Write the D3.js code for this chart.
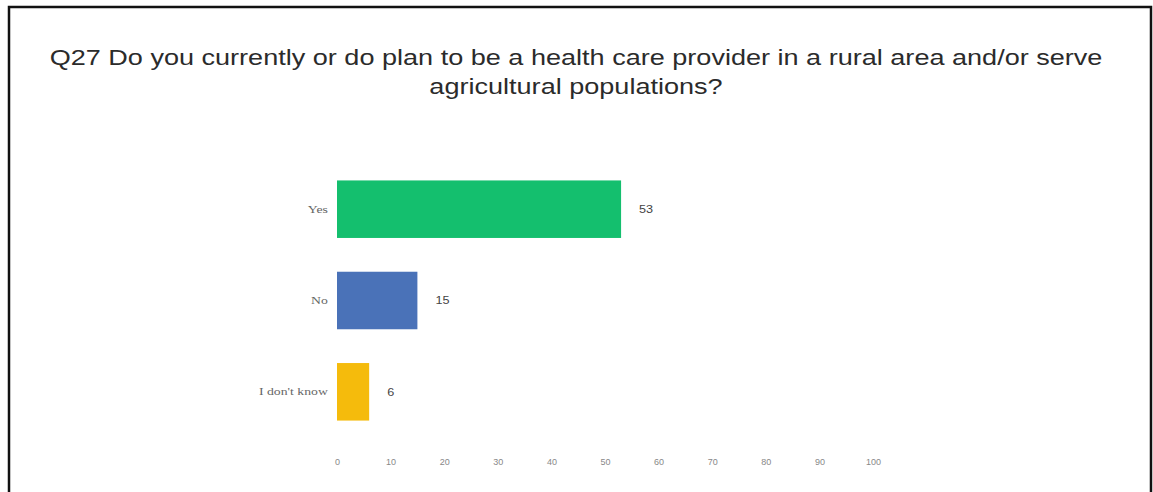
<!DOCTYPE html>
<html>
<head>
<meta charset="utf-8">
<script src="https://cdn.jsdelivr.net/npm/d3@7"></script>
<style>
  body { margin: 0; background: #fff; }
</style>
</head>
<body>
<script>
const categories = ["Yes", "No", "I don't know"];
const values = [53, 15, 6];
const colors = ["#14bf6e", "#4a72b8", "#f5bb0c"];
const ticks = [0, 10, 20, 30, 40, 50, 60, 70, 80, 90, 100];
const titleLines = [
  "Q27 Do you currently or do plan to be a health care provider in a rural area and/or serve",
  "agricultural populations?"
];

const width = 1153;
const height = 492;
// the source picture is stretched sideways, so text gets a horizontal stretch too
const stretch = 1.31;

const svg = d3.select("body").append("svg")
  .attr("width", width)
  .attr("height", height)
  .style("font-family", "'Liberation Sans', Arial, sans-serif");

// frame (open at the bottom, cropped)
svg.append("path")
  .attr("d", `M9,${height + 5}V7H1151V${height + 5}`)
  .attr("fill", "none")
  .attr("stroke", "#111")
  .attr("stroke-width", 2.5);

svg.append("g")
  .selectAll("text")
  .data(titleLines)
  .join("text")
  .attr("transform", (d, i) => `translate(576,${65 + i * 29}) scale(1.23,1)`)
  .attr("text-anchor", "middle")
  .attr("font-size", 22)
  .attr("fill", "#2b2b2b")
  .text(d => d);

const x = d3.scaleLinear().domain([0, 100]).range([337, 873]);
const y = d3.scaleBand().domain(categories).range([164, 437]).paddingInner(0.37).paddingOuter(0.18);

svg.append("g")
  .selectAll("rect")
  .data(values)
  .join("rect")
  .attr("x", x(0))
  .attr("y", (d, i) => y(categories[i]))
  .attr("width", d => x(d) - x(0))
  .attr("height", y.bandwidth())
  .attr("fill", (d, i) => colors[i]);

svg.append("g")
  .selectAll("text")
  .data(values)
  .join("text")
  .attr("transform", (d, i) => `translate(${x(d) + 18},${y(categories[i]) + y.bandwidth() / 2}) scale(1.15,1)`)
  .attr("dy", "0.35em")
  .attr("font-size", 11)
  .attr("fill", "#444")
  .text(d => d);

const yAxis = svg.append("g")
  .attr("transform", `translate(${x(0)},0)`)
  .call(d3.axisLeft(y).tickSize(0).tickPadding(7));
yAxis.select(".domain").remove();
yAxis.selectAll("text")
  .attr("font-size", 10.5)
  .attr("fill", "#666")
  .attr("font-family", "'Liberation Serif', serif")
  .attr("transform", `scale(${stretch},1)`);

const xAxis = svg.append("g")
  .attr("transform", "translate(0,453)")
  .call(d3.axisBottom(x).tickValues(ticks).tickSize(0).tickPadding(6));
xAxis.select(".domain").remove();
xAxis.selectAll("text").attr("font-size", 9).attr("fill", "#888");
</script>
</body>
</html>
